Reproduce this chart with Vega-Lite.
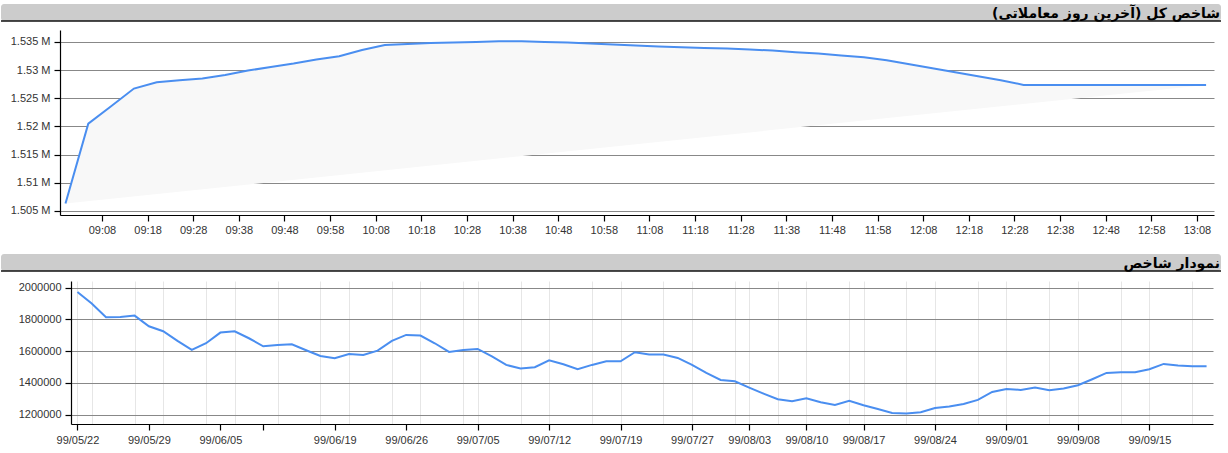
{
  "$schema": "https://vega.github.io/schema/vega-lite/v6.json",
  "background": "white",
  "padding": {"left": 0, "top": 4, "right": 0, "bottom": 0},
  "spacing": 19,
  "config": {
    "view": {"stroke": null},
    "font": "Liberation Sans",
    "axis": {"labelFont": "Liberation Sans", "labelFontSize": 11, "labelColor": "#333333", "domainColor": "#000000", "domainWidth": 1.2, "tickColor": "#000000", "tickWidth": 1.2, "title": null}
  },
  "vconcat": [
    {
      "vconcat": [
        {
          "width": 1220,
          "height": 17,
          "view": {"fill": "#cccccc", "stroke": null, "cornerRadius": 3},
          "data": {"values": [{"title": "شاخص کل (آخرین روز معاملاتی)"}]},
          "layer": [
            {"mark": {"type": "rule", "color": "#111111", "strokeWidth": 1.5}, "encoding": {"y": {"datum": 0, "type": "quantitative", "scale": {"domain": [0, 1]}, "axis": null}}},
            {"mark": {"type": "text", "align": "right", "baseline": "middle", "font": "DejaVu Sans", "fontWeight": "bold", "fontSize": 14, "color": "#000000", "dx": -1, "dy": 1},
             "encoding": {"text": {"field": "title"}, "x": {"datum": 1, "type": "quantitative", "scale": {"domain": [0, 1]}, "axis": null}, "y": {"datum": 0.5, "type": "quantitative", "scale": {"domain": [0, 1]}, "axis": null}}}
          ]
        },
        {
          "width": 1220,
          "height": 185,
          "data": {"values": [
            {"time": "2020-12-10T09:00:00", "value": 1506300},
            {"time": "2020-12-10T09:05:00", "value": 1520500},
            {"time": "2020-12-10T09:10:00", "value": 1523580},
            {"time": "2020-12-10T09:15:00", "value": 1526720},
            {"time": "2020-12-10T09:20:00", "value": 1527840},
            {"time": "2020-12-10T09:25:00", "value": 1528200},
            {"time": "2020-12-10T09:30:00", "value": 1528490},
            {"time": "2020-12-10T09:35:00", "value": 1529140},
            {"time": "2020-12-10T09:40:00", "value": 1529910},
            {"time": "2020-12-10T09:45:00", "value": 1530560},
            {"time": "2020-12-10T09:50:00", "value": 1531150},
            {"time": "2020-12-10T09:55:00", "value": 1531870},
            {"time": "2020-12-10T10:00:00", "value": 1532460},
            {"time": "2020-12-10T10:05:00", "value": 1533580},
            {"time": "2020-12-10T10:10:00", "value": 1534470},
            {"time": "2020-12-10T10:15:00", "value": 1534650},
            {"time": "2020-12-10T10:20:00", "value": 1534820},
            {"time": "2020-12-10T10:25:00", "value": 1534880},
            {"time": "2020-12-10T10:30:00", "value": 1535000},
            {"time": "2020-12-10T10:35:00", "value": 1535120},
            {"time": "2020-12-10T10:40:00", "value": 1535120},
            {"time": "2020-12-10T10:45:00", "value": 1535000},
            {"time": "2020-12-10T10:50:00", "value": 1534880},
            {"time": "2020-12-10T10:55:00", "value": 1534700},
            {"time": "2020-12-10T11:00:00", "value": 1534530},
            {"time": "2020-12-10T11:05:00", "value": 1534350},
            {"time": "2020-12-10T11:10:00", "value": 1534170},
            {"time": "2020-12-10T11:15:00", "value": 1534050},
            {"time": "2020-12-10T11:20:00", "value": 1533940},
            {"time": "2020-12-10T11:25:00", "value": 1533820},
            {"time": "2020-12-10T11:30:00", "value": 1533640},
            {"time": "2020-12-10T11:35:00", "value": 1533460},
            {"time": "2020-12-10T11:40:00", "value": 1533170},
            {"time": "2020-12-10T11:45:00", "value": 1532930},
            {"time": "2020-12-10T11:50:00", "value": 1532580},
            {"time": "2020-12-10T11:55:00", "value": 1532280},
            {"time": "2020-12-10T12:00:00", "value": 1531750},
            {"time": "2020-12-10T12:05:00", "value": 1531040},
            {"time": "2020-12-10T12:10:00", "value": 1530330},
            {"time": "2020-12-10T12:15:00", "value": 1529620},
            {"time": "2020-12-10T12:20:00", "value": 1528910},
            {"time": "2020-12-10T12:25:00", "value": 1528200},
            {"time": "2020-12-10T12:30:00", "value": 1527370},
            {"time": "2020-12-10T13:10:00", "value": 1527370}
          ]},
          "mark": {"type": "line", "stroke": "#4a8ef0", "strokeWidth": 2, "fill": "#f8f8f8"},
          "encoding": {
            "x": {
              "field": "time", "type": "temporal",
              "scale": {"domain": [
                {"year": 2020, "month": 12, "date": 10, "hours": 8, "minutes": 58, "seconds": 48},
                {"year": 2020, "month": 12, "date": 10, "hours": 13, "minutes": 11, "seconds": 44}
              ], "range": [59, 1213]},
              "axis": {
                "values": [
                  {"year": 2020, "month": 12, "date": 10, "hours": 9, "minutes": 8},
                  {"year": 2020, "month": 12, "date": 10, "hours": 9, "minutes": 18},
                  {"year": 2020, "month": 12, "date": 10, "hours": 9, "minutes": 28},
                  {"year": 2020, "month": 12, "date": 10, "hours": 9, "minutes": 38},
                  {"year": 2020, "month": 12, "date": 10, "hours": 9, "minutes": 48},
                  {"year": 2020, "month": 12, "date": 10, "hours": 9, "minutes": 58},
                  {"year": 2020, "month": 12, "date": 10, "hours": 10, "minutes": 8},
                  {"year": 2020, "month": 12, "date": 10, "hours": 10, "minutes": 18},
                  {"year": 2020, "month": 12, "date": 10, "hours": 10, "minutes": 28},
                  {"year": 2020, "month": 12, "date": 10, "hours": 10, "minutes": 38},
                  {"year": 2020, "month": 12, "date": 10, "hours": 10, "minutes": 48},
                  {"year": 2020, "month": 12, "date": 10, "hours": 10, "minutes": 58},
                  {"year": 2020, "month": 12, "date": 10, "hours": 11, "minutes": 8},
                  {"year": 2020, "month": 12, "date": 10, "hours": 11, "minutes": 18},
                  {"year": 2020, "month": 12, "date": 10, "hours": 11, "minutes": 28},
                  {"year": 2020, "month": 12, "date": 10, "hours": 11, "minutes": 38},
                  {"year": 2020, "month": 12, "date": 10, "hours": 11, "minutes": 48},
                  {"year": 2020, "month": 12, "date": 10, "hours": 11, "minutes": 58},
                  {"year": 2020, "month": 12, "date": 10, "hours": 12, "minutes": 8},
                  {"year": 2020, "month": 12, "date": 10, "hours": 12, "minutes": 18},
                  {"year": 2020, "month": 12, "date": 10, "hours": 12, "minutes": 28},
                  {"year": 2020, "month": 12, "date": 10, "hours": 12, "minutes": 38},
                  {"year": 2020, "month": 12, "date": 10, "hours": 12, "minutes": 48},
                  {"year": 2020, "month": 12, "date": 10, "hours": 12, "minutes": 58},
                  {"year": 2020, "month": 12, "date": 10, "hours": 13, "minutes": 8}
                ],
                "format": "%H:%M", "grid": false, "tickSize": 6, "labelPadding": 3, "labelOverlap": false
              }
            },
            "y": {
              "field": "value", "type": "quantitative",
              "scale": {"domain": [1504276, 1537116], "zero": false, "nice": false},
              "axis": {
                "values": [1505000, 1510000, 1515000, 1520000, 1525000, 1530000, 1535000],
                "labelExpr": "format(datum.value / 1000000, '.3~f') + ' M'",
                "grid": true, "gridColor": "#888888", "tickSize": 6, "labelPadding": 4, "offset": -59
              }
            }
          }
        }
      ],
      "spacing": 8
    },
    {
      "vconcat": [
        {
          "width": 1220,
          "height": 17,
          "view": {"fill": "#cccccc", "stroke": null, "cornerRadius": 3},
          "data": {"values": [{"title": "نمودار شاخص"}]},
          "layer": [
            {"mark": {"type": "rule", "color": "#111111", "strokeWidth": 1.5}, "encoding": {"y": {"datum": 0, "type": "quantitative", "scale": {"domain": [0, 1]}, "axis": null}}},
            {"mark": {"type": "text", "align": "right", "baseline": "middle", "font": "DejaVu Sans", "fontWeight": "bold", "fontSize": 14, "color": "#000000", "dx": -1, "dy": 1},
             "encoding": {"text": {"field": "title"}, "x": {"datum": 1, "type": "quantitative", "scale": {"domain": [0, 1]}, "axis": null}, "y": {"datum": 0.5, "type": "quantitative", "scale": {"domain": [0, 1]}, "axis": null}}}
          ]
        },
        {
          "width": 1220,
          "height": 143,
          "data": {"values": [
            {"date": "99/05/22", "value": 1972500},
            {"date": "99/05/25", "value": 1899000},
            {"date": "99/05/26", "value": 1812900},
            {"date": "99/05/27", "value": 1815000},
            {"date": "99/05/28", "value": 1823400},
            {"date": "99/05/29", "value": 1756200},
            {"date": "99/06/01", "value": 1724700},
            {"date": "99/06/02", "value": 1663800},
            {"date": "99/06/03", "value": 1607100},
            {"date": "99/06/04", "value": 1649100},
            {"date": "99/06/05", "value": 1716400},
            {"date": "99/06/10", "value": 1724700},
            {"date": "99/06/11", "value": 1680600},
            {"date": "99/06/12", "value": 1630200},
            {"date": "99/06/15", "value": 1638600},
            {"date": "99/06/16", "value": 1642800},
            {"date": "99/06/17", "value": 1605000},
            {"date": "99/06/18", "value": 1569300},
            {"date": "99/06/19", "value": 1554700},
            {"date": "99/06/22", "value": 1581900},
            {"date": "99/06/23", "value": 1575600},
            {"date": "99/06/24", "value": 1602900},
            {"date": "99/06/25", "value": 1663800},
            {"date": "99/06/26", "value": 1701600},
            {"date": "99/06/29", "value": 1697400},
            {"date": "99/06/30", "value": 1649100},
            {"date": "99/06/31", "value": 1594500},
            {"date": "99/07/01", "value": 1607100},
            {"date": "99/07/05", "value": 1613400},
            {"date": "99/07/06", "value": 1567000},
            {"date": "99/07/07", "value": 1512700},
            {"date": "99/07/08", "value": 1489600},
            {"date": "99/07/09", "value": 1497900},
            {"date": "99/07/12", "value": 1542000},
            {"date": "99/07/13", "value": 1516900},
            {"date": "99/07/14", "value": 1485400},
            {"date": "99/07/15", "value": 1512700},
            {"date": "99/07/16", "value": 1535800},
            {"date": "99/07/19", "value": 1535800},
            {"date": "99/07/20", "value": 1592400},
            {"date": "99/07/21", "value": 1577800},
            {"date": "99/07/22", "value": 1577800},
            {"date": "99/07/23", "value": 1556700},
            {"date": "99/07/27", "value": 1512700},
            {"date": "99/07/28", "value": 1462300},
            {"date": "99/07/29", "value": 1418200},
            {"date": "99/07/30", "value": 1409800},
            {"date": "99/08/03", "value": 1369900},
            {"date": "99/08/04", "value": 1332100},
            {"date": "99/08/05", "value": 1296400},
            {"date": "99/08/06", "value": 1283800},
            {"date": "99/08/10", "value": 1302700},
            {"date": "99/08/11", "value": 1277500},
            {"date": "99/08/12", "value": 1260700},
            {"date": "99/08/14", "value": 1286000},
            {"date": "99/08/17", "value": 1258600},
            {"date": "99/08/18", "value": 1235500},
            {"date": "99/08/19", "value": 1210300},
            {"date": "99/08/20", "value": 1206100},
            {"date": "99/08/21", "value": 1214500},
            {"date": "99/08/24", "value": 1241800},
            {"date": "99/08/25", "value": 1250200},
            {"date": "99/08/26", "value": 1267000},
            {"date": "99/08/27", "value": 1292200},
            {"date": "99/08/28", "value": 1342600},
            {"date": "99/09/01", "value": 1361500},
            {"date": "99/09/02", "value": 1355200},
            {"date": "99/09/03", "value": 1369900},
            {"date": "99/09/04", "value": 1353100},
            {"date": "99/09/05", "value": 1363600},
            {"date": "99/09/08", "value": 1384600},
            {"date": "99/09/09", "value": 1422400},
            {"date": "99/09/10", "value": 1462300},
            {"date": "99/09/11", "value": 1466500},
            {"date": "99/09/12", "value": 1466500},
            {"date": "99/09/15", "value": 1485400},
            {"date": "99/09/16", "value": 1518900},
            {"date": "99/09/17", "value": 1508500},
            {"date": "99/09/18", "value": 1504300},
            {"date": "99/09/19", "value": 1504300}
          ]},
          "mark": {"type": "line", "stroke": "#4a8ef0", "strokeWidth": 2},
          "encoding": {
            "x": {
              "field": "date", "type": "ordinal", "sort": null,
              "scale": {"type": "point", "padding": 0.45, "range": [70, 1212]},
              "axis": {
                "values": ["99/05/22", "99/05/25", "99/05/28", "99/05/29", "99/06/01", "99/06/04", "99/06/05", "99/06/10", "99/06/12", "99/06/15", "99/06/18", "99/06/19", "99/06/22", "99/06/25", "99/06/26", "99/06/29", "99/07/01", "99/07/05", "99/07/08", "99/07/12", "99/07/15", "99/07/19", "99/07/22", "99/07/27", "99/07/30", "99/08/03", "99/08/05", "99/08/10", "99/08/14", "99/08/17", "99/08/20", "99/08/24", "99/08/27", "99/09/01", "99/09/04", "99/09/08", "99/09/11", "99/09/15", "99/09/18"],
                "labelExpr": "indexof(['99/05/22','99/05/29','99/06/05','99/06/19','99/06/26','99/07/05','99/07/12','99/07/19','99/07/27','99/08/03','99/08/10','99/08/17','99/08/24','99/09/01','99/09/08','99/09/15'], datum.value) >= 0 ? datum.value : ''",
                "tickOpacity": {"condition": {"test": "indexof(['99/05/22','99/05/29','99/06/05','99/06/12','99/06/19','99/06/26','99/07/05','99/07/12','99/07/19','99/07/27','99/08/03','99/08/10','99/08/17','99/08/24','99/09/01','99/09/08','99/09/15'], datum.value) >= 0", "value": 1}, "value": 0},
                "grid": true,
                "gridColor": "#e6e6e6",
                "gridOpacity": {"condition": {"test": "indexof(['99/05/22','99/05/25','99/05/28','99/06/01','99/06/04','99/06/10','99/06/15','99/06/18','99/06/22','99/06/25','99/06/29','99/07/01','99/07/05','99/07/08','99/07/12','99/07/15','99/07/19','99/07/22','99/07/27','99/07/30','99/08/03','99/08/05','99/08/10','99/08/14','99/08/17','99/08/20','99/08/24','99/08/27','99/09/01','99/09/04','99/09/08','99/09/11','99/09/15','99/09/18'], datum.value) >= 0", "value": 1}, "value": 0},
                "labelAngle": 0, "labelOverlap": false, "tickSize": 6, "labelPadding": 4
              }
            },
            "y": {
              "field": "value", "type": "quantitative",
              "scale": {"domain": [1140500, 2041300], "zero": false, "nice": false},
              "axis": {
                "values": [1200000, 1400000, 1600000, 1800000, 2000000],
                "format": "d", "grid": true, "gridColor": "#888888", "tickSize": 6, "labelPadding": 4, "offset": -70
              }
            }
          }
        }
      ],
      "spacing": 9
    }
  ]
}
